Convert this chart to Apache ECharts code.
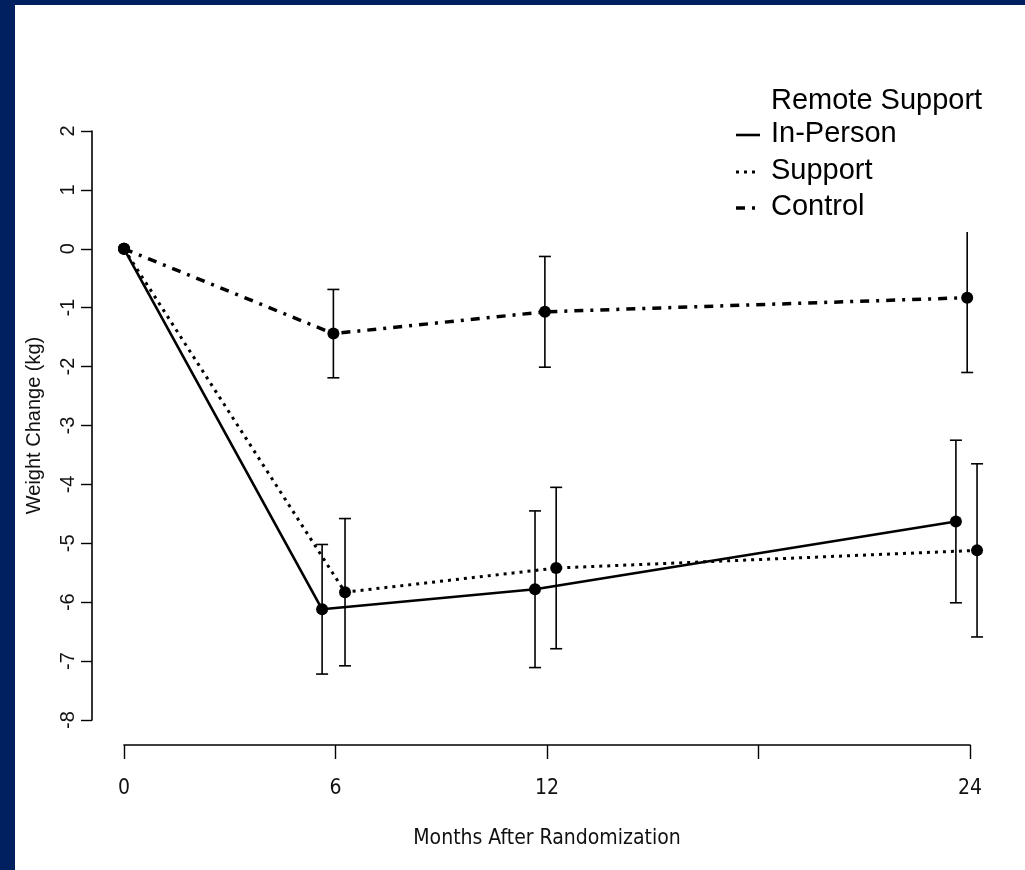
<!DOCTYPE html>
<html>
<head>
<meta charset="utf-8">
<title>Weight change after randomization</title>
<script src="https://cdn.jsdelivr.net/npm/echarts@6/dist/echarts.min.js"></script>
<style>
  html, body { margin: 0; padding: 0; background: #002060; }
  #chart { width: 1025px; height: 870px; }
</style>
</head>
<body>
<div id="chart"></div>
<script>
// x ticks (18 has a tick but no label)
const monthTicks = [0, 6, 12, 18, 24]
const tickLabels = ['0', '6', '12', '', '24']

// groups are drawn a little apart on x so the bars don't overlap
const inPersonMonths = [0, 5.62, 11.66, 23.6]
const inPersonMean = [0, -6.12, -5.78, -4.63]
const inPersonErr = [0, 1.10, 1.33, 1.38]

const supportMonths = [0, 6.27, 12.26, 24.2]
const supportMean = [0, -5.83, -5.42, -5.12]
const supportErr = [0, 1.25, 1.37, 1.47]

const controlMonths = [0, 5.94, 11.94, 23.92]
const controlMean = [0, -1.44, -1.07, -0.83]
const controlErr = [0, 0.75, 0.94, 1.27]

const legendTitle = 'Remote Support'
const groupNames = ['In-Person', 'Support', 'Control']

const DOTTED = [3, 5]
const DOTDASH = [9, 7, 3, 7]
const AXIS_FONT = '"DejaVu Sans Condensed", "Liberation Sans Narrow", "Liberation Sans", sans-serif'

/**
 * mean line with filled dots
 */
const meanLine = (name, months, mean, width, dash) => ({
    type: 'line',
    name: name,
    data: months.map((m, i) => [m, mean[i]]),
    clip: false,
    symbol: 'circle',
    symbolSize: 12,
    itemStyle: { color: '#000' },
    lineStyle: { color: '#000', width: width, type: dash, cap: 'butt' },
    z: 3
})

/**
 * error bars: vertical line with caps
 */
const errorBars = (name, months, mean, err) => ({
    type: 'custom',
    name: name + ' err',
    data: months
        .map((m, i) => [m, mean[i] - err[i], mean[i] + err[i]])
        .filter((d, i) => err[i] > 0),
    encode: { x: 0, y: [1, 2] },
    renderItem: function (params, api) {
        const lo = api.coord([api.value(0), api.value(1)])
        const hi = api.coord([api.value(0), api.value(2)])
        const w = 6
        const st = { stroke: '#000', lineWidth: 1.6 }
        return {
            type: 'group',
            children: [
                { type: 'line', shape: { x1: lo[0], y1: lo[1], x2: hi[0], y2: hi[1] }, style: st },
                { type: 'line', shape: { x1: lo[0] - w, y1: lo[1], x2: lo[0] + w, y2: lo[1] }, style: st },
                { type: 'line', shape: { x1: hi[0] - w, y1: hi[1], x2: hi[0] + w, y2: hi[1] }, style: st }
            ]
        }
    },
    z: 2
})

// legend drawn by hand (R style, white box over the plot)
const legendRows = [
    { text: legendTitle, y: 101, dash: null },
    { text: groupNames[0], y: 134, dash: 'solid', width: 2.6 },
    { text: groupNames[1], y: 171, dash: DOTTED, width: 3 },
    { text: groupNames[2], y: 207, dash: DOTDASH, width: 3.5 }
]
const legendItems = [
    { type: 'rect', z: 100, shape: { x: 718, y: 76, width: 300, height: 156 }, style: { fill: '#fff' } }
].concat(legendRows.map(r => ({
    type: 'text',
    z: 101,
    style: {
        x: 771, y: r.y, text: r.text, fill: '#000',
        font: '29px "Liberation Sans", Arial, sans-serif',
        verticalAlign: 'middle'
    }
}))).concat(legendRows.filter(r => r.dash).map(r => ({
    type: 'line',
    z: 101,
    shape: { x1: 736, y1: r.y + 1, x2: 760, y2: r.y + 1 },
    style: { stroke: '#000', lineWidth: r.width, lineDash: r.dash === 'solid' ? null : r.dash }
})))

var myChart = echarts.init(document.getElementById('chart'))
var option = {
    backgroundColor: '#002060',
    animation: false,
    graphic: [
        { type: 'rect', z: -10, shape: { x: 15, y: 5, width: 1010, height: 865 }, style: { fill: '#fff' } }
    ].concat(legendItems),
    grid: { left: 124, right: 55, top: 131, bottom: 150 },
    xAxis: {
        type: 'value',
        min: 0,
        max: 24,
        interval: 6,
        offset: 25,
        name: 'Months After Randomization',
        nameLocation: 'middle',
        nameGap: 83,
        nameTextStyle: { color: '#111', fontSize: 21, fontFamily: AXIS_FONT },
        axisLine: { onZero: false, lineStyle: { color: '#000', width: 1.6 } },
        axisTick: { length: 14, lineStyle: { color: '#000', width: 1.4 } },
        axisLabel: {
            margin: 33,
            color: '#111',
            fontSize: 21,
            fontFamily: AXIS_FONT,
            formatter: v => tickLabels[monthTicks.indexOf(v)] || ''
        },
        splitLine: { show: false }
    },
    yAxis: {
        type: 'value',
        min: -8,
        max: 2,
        interval: 1,
        offset: 32,
        name: 'Weight Change (kg)',
        nameLocation: 'middle',
        nameGap: 48,
        nameTextStyle: { color: '#111', fontSize: 20, fontFamily: '"Liberation Sans", Arial, sans-serif' },
        axisLine: { show: true, onZero: false, lineStyle: { color: '#000', width: 1.6 } },
        axisTick: { show: true, length: 11, lineStyle: { color: '#000', width: 1.4 } },
        axisLabel: {
            rotate: 90,
            margin: 14,
            color: '#111',
            fontSize: 20,
            fontFamily: '"Liberation Sans", Arial, sans-serif'
        },
        splitLine: { show: false }
    },
    series: [
        errorBars(groupNames[0], inPersonMonths, inPersonMean, inPersonErr),
        errorBars(groupNames[1], supportMonths, supportMean, supportErr),
        errorBars(groupNames[2], controlMonths, controlMean, controlErr),
        meanLine(groupNames[0], inPersonMonths, inPersonMean, 2.6, 'solid'),
        meanLine(groupNames[1], supportMonths, supportMean, 3, DOTTED),
        meanLine(groupNames[2], controlMonths, controlMean, 3.5, DOTDASH)
    ]
}
myChart.setOption(option)
</script>
</body>
</html>
